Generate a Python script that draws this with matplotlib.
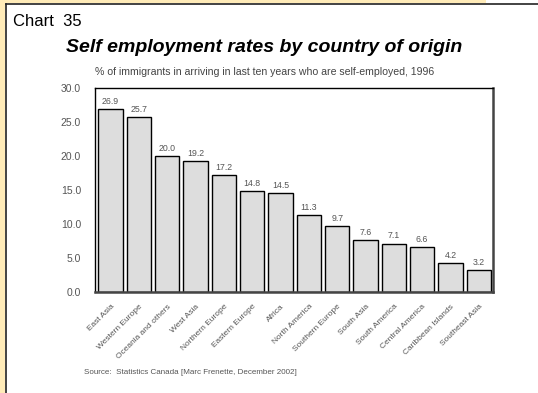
import matplotlib.pyplot as plt
from matplotlib.lines import Line2D
from matplotlib.patches import Rectangle

regions = ['East Asia', 'Western Europe', 'Oceania and others', 'West Asia',
           'Northern Europe', 'Eastern Europe', 'Africa', 'North America',
           'Southern Europe', 'South Asia', 'South America', 'Central America',
           'Caribbean Islands', 'Southeast Asia']
rates = [26.9, 25.7, 20.0, 19.2, 17.2, 14.8, 14.5, 11.3, 9.7, 7.6, 7.1, 6.6, 4.2, 3.2]
y_ticks = [0, 5, 10, 15, 20, 25, 30]

plt.rcParams['font.family'] = ['Liberation Sans', 'DejaVu Sans']
grey = '#555555'

W, H = 538, 393
fig = plt.figure(figsize=(W / 100, H / 100), dpi=100)
fig.patch.set_facecolor('white')

# yellow frame strips and black border
fig.add_artist(Rectangle((0, 0), 5 / W, 1, transform=fig.transFigure, color='#FFEBB8', lw=0))
fig.add_artist(Rectangle((0, 1 - 3 / H), 486 / W, 3 / H, transform=fig.transFigure, color='#FFEBB8', lw=0))
fig.add_artist(Line2D([5.5 / W, 5.5 / W], [0, 1 - 3.5 / H], transform=fig.transFigure, color='#222222', lw=1.2))
fig.add_artist(Line2D([5.5 / W, 1], [1 - 3.5 / H, 1 - 3.5 / H], transform=fig.transFigure, color='#222222', lw=1.2))

ax = fig.add_axes([95 / W, 1 - 292 / H, 398 / W, 204 / H])
x = range(len(regions))
ax.bar(x, rates, width=0.86, color='#DDDDDD', edgecolor='black', linewidth=1)
for i, v in zip(x, rates):
  ax.text(i, v + 0.5, f'{v:.1f}', ha='center', va='bottom', fontsize=6.3, color=grey)

ax.set_xlim(-0.55, 13.5)
ax.set_ylim(0, 30)
ax.set_yticks(y_ticks)
ax.set_yticklabels([f'{t:.1f}' for t in y_ticks], fontsize=7.5, color=grey)
ax.set_xticks(list(x))
ax.set_xticklabels(regions, rotation=45, ha='right', rotation_mode='anchor', fontsize=6, color=grey)
ax.tick_params(axis='both', length=0)
ax.tick_params(axis='x', pad=8)
ax.tick_params(axis='y', pad=10)
for s in ['left', 'top']:
  ax.spines[s].set_linewidth(1)
for s in ['right', 'bottom']:
  ax.spines[s].set_linewidth(1.8)
  ax.spines[s].set_color('#444444')

fig.text(13 / W, 1 - 21 / H, 'Chart  35', fontsize=12, va='center', ha='left')
fig.text(264 / W, 1 - 47 / H, 'Self employment rates by country of origin', fontsize=14,
         fontweight='bold', fontstyle='italic', ha='center', va='center')
fig.text(95 / W, 1 - 72 / H, '% of immigrants in arriving in last ten years who are self-employed, 1996',
         fontsize=7.6, color='#444444', ha='left', va='center')
fig.text(84 / W, 1 - 372 / H, 'Source:  Statistics Canada [Marc Frenette, December 2002]',
         fontsize=5.8, color=grey, ha='left', va='center')

fig.savefig('out.png', dpi=100)
